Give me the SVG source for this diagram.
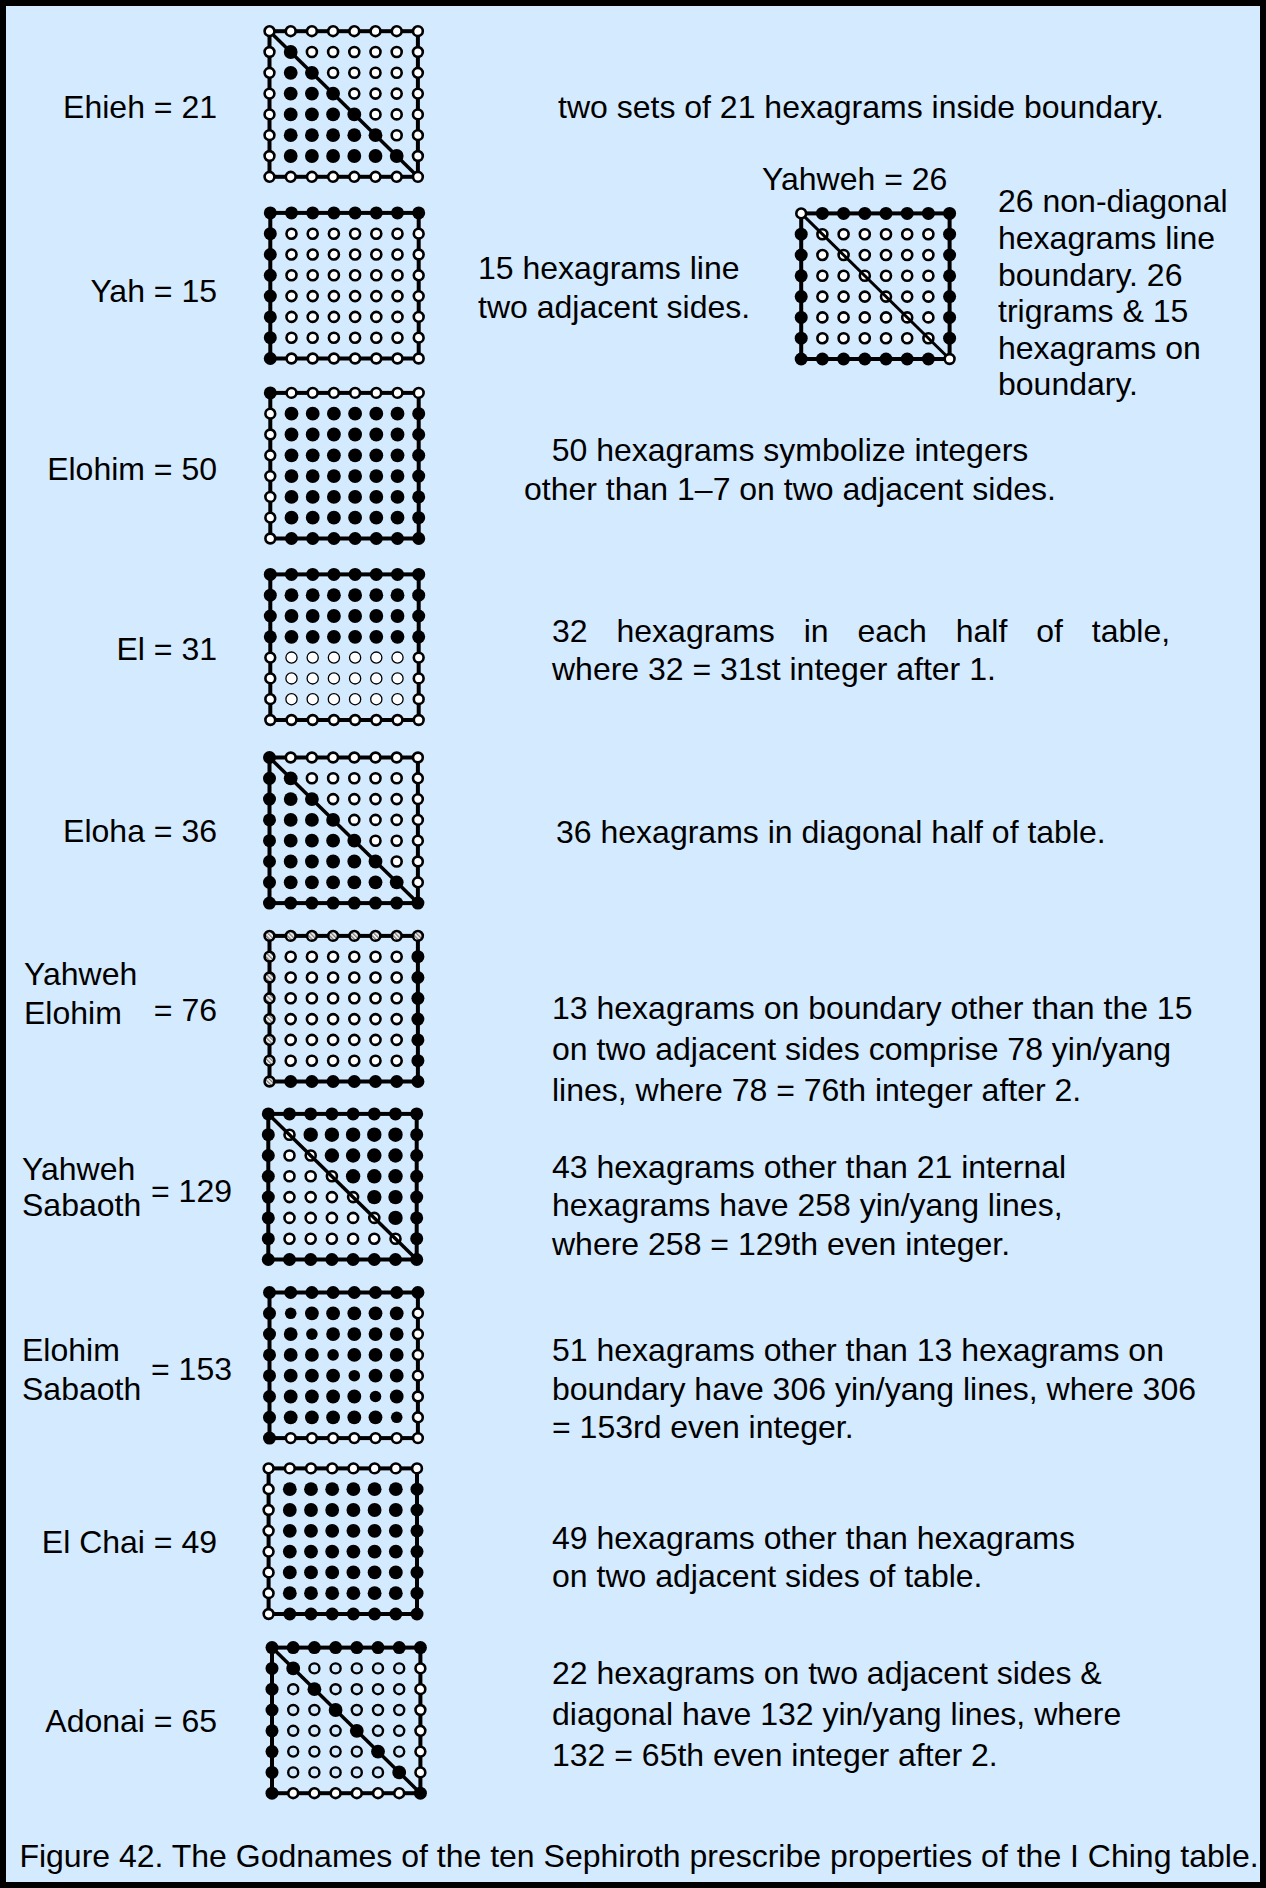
<svg xmlns="http://www.w3.org/2000/svg" xmlns:xlink="http://www.w3.org/1999/xlink" width="1266" height="1888" viewBox="0 0 1266 1888">
<style>
.bh{fill:#fff;stroke:#000;stroke-width:2.6;r:4.9px}
.bf{fill:#000;r:6.5px}
.bx{fill:url(#hatch);stroke:#000;stroke-width:2.6;r:4.9px}
.io{fill:#fff;stroke:#000;stroke-width:2.6;r:5px}
.it{fill:#fff;stroke:#000;stroke-width:1.3;r:5.6px}
.ir{fill:none;stroke:#000;stroke-width:2.4;r:5px}
.iF{fill:#000;r:6.9px}
.iB{fill:#000;r:7.2px}
.iS{fill:#000;r:5.8px}
.sq{fill:none;stroke:#000;stroke-width:4}
.dg{stroke:#000;stroke-width:3.5}
text{font-family:"Liberation Sans",Arial,Helvetica,sans-serif;font-size:32px;fill:#000}
.e{text-anchor:end}
.m{text-anchor:middle}
</style>
<defs>
<pattern id="hatch" patternUnits="userSpaceOnUse" width="3" height="3" patternTransform="rotate(-45)"><rect width="3" height="3" fill="#fff"/><rect width="1.4" height="3" fill="#777"/></pattern>
<g id="Hh6"><circle class="bh" cx="21.2"/><circle class="bh" cx="42.4"/><circle class="bh" cx="63.6"/><circle class="bh" cx="84.8"/><circle class="bh" cx="106"/><circle class="bh" cx="127.2"/></g>
<g id="Hf6"><circle class="bf" cx="21.2"/><circle class="bf" cx="42.4"/><circle class="bf" cx="63.6"/><circle class="bf" cx="84.8"/><circle class="bf" cx="106"/><circle class="bf" cx="127.2"/></g>
<g id="Hx6"><circle class="bx" cx="21.2"/><circle class="bx" cx="42.4"/><circle class="bx" cx="63.6"/><circle class="bx" cx="84.8"/><circle class="bx" cx="106"/><circle class="bx" cx="127.2"/></g>
<g id="Vh6"><circle class="bh" cy="20.8"/><circle class="bh" cy="41.6"/><circle class="bh" cy="62.4"/><circle class="bh" cy="83.2"/><circle class="bh" cy="104"/><circle class="bh" cy="124.8"/></g>
<g id="Vf6"><circle class="bf" cy="20.8"/><circle class="bf" cy="41.6"/><circle class="bf" cy="62.4"/><circle class="bf" cy="83.2"/><circle class="bf" cy="104"/><circle class="bf" cy="124.8"/></g>
<g id="Vx6"><circle class="bx" cy="20.8"/><circle class="bx" cy="41.6"/><circle class="bx" cy="62.4"/><circle class="bx" cy="83.2"/><circle class="bx" cy="104"/><circle class="bx" cy="124.8"/></g>
<g id="Io6"><circle class="io" cx="21.2"/><circle class="io" cx="42.4"/><circle class="io" cx="63.6"/><circle class="io" cx="84.8"/><circle class="io" cx="106"/><circle class="io" cx="127.2"/></g>
<g id="IF6"><circle class="iF" cx="21.2"/><circle class="iF" cx="42.4"/><circle class="iF" cx="63.6"/><circle class="iF" cx="84.8"/><circle class="iF" cx="106"/><circle class="iF" cx="127.2"/></g>
<g id="It6"><circle class="it" cx="21.2"/><circle class="it" cx="42.4"/><circle class="it" cx="63.6"/><circle class="it" cx="84.8"/><circle class="it" cx="106"/><circle class="it" cx="127.2"/></g>
<g id="IoAll"><use href="#Io6" y="20.8"/><use href="#Io6" y="41.6"/><use href="#Io6" y="62.4"/><use href="#Io6" y="83.2"/><use href="#Io6" y="104"/><use href="#Io6" y="124.8"/></g>
<g id="IFAll"><use href="#IF6" y="20.8"/><use href="#IF6" y="41.6"/><use href="#IF6" y="62.4"/><use href="#IF6" y="83.2"/><use href="#IF6" y="104"/><use href="#IF6" y="124.8"/></g>
<g id="triLF">
<circle class="iF" cx="21.2" cy="20.8"/><circle class="io" cx="42.4" cy="20.8"/><circle class="io" cx="63.6" cy="20.8"/><circle class="io" cx="84.8" cy="20.8"/><circle class="io" cx="106" cy="20.8"/><circle class="io" cx="127.2" cy="20.8"/>
<circle class="iF" cx="21.2" cy="41.6"/><circle class="iF" cx="42.4" cy="41.6"/><circle class="io" cx="63.6" cy="41.6"/><circle class="io" cx="84.8" cy="41.6"/><circle class="io" cx="106" cy="41.6"/><circle class="io" cx="127.2" cy="41.6"/>
<circle class="iF" cx="21.2" cy="62.4"/><circle class="iF" cx="42.4" cy="62.4"/><circle class="iF" cx="63.6" cy="62.4"/><circle class="io" cx="84.8" cy="62.4"/><circle class="io" cx="106" cy="62.4"/><circle class="io" cx="127.2" cy="62.4"/>
<circle class="iF" cx="21.2" cy="83.2"/><circle class="iF" cx="42.4" cy="83.2"/><circle class="iF" cx="63.6" cy="83.2"/><circle class="iF" cx="84.8" cy="83.2"/><circle class="io" cx="106" cy="83.2"/><circle class="io" cx="127.2" cy="83.2"/>
<circle class="iF" cx="21.2" cy="104"/><circle class="iF" cx="42.4" cy="104"/><circle class="iF" cx="63.6" cy="104"/><circle class="iF" cx="84.8" cy="104"/><circle class="iF" cx="106" cy="104"/><circle class="io" cx="127.2" cy="104"/>
<use href="#IF6" y="124.8"/>
</g>
<g id="triLO">
<circle class="io" cx="21.2" cy="20.8"/><circle class="iB" cx="42.4" cy="20.8"/><circle class="iB" cx="63.6" cy="20.8"/><circle class="iB" cx="84.8" cy="20.8"/><circle class="iB" cx="106" cy="20.8"/><circle class="iB" cx="127.2" cy="20.8"/>
<circle class="io" cx="21.2" cy="41.6"/><circle class="io" cx="42.4" cy="41.6"/><circle class="iB" cx="63.6" cy="41.6"/><circle class="iB" cx="84.8" cy="41.6"/><circle class="iB" cx="106" cy="41.6"/><circle class="iB" cx="127.2" cy="41.6"/>
<circle class="io" cx="21.2" cy="62.4"/><circle class="io" cx="42.4" cy="62.4"/><circle class="io" cx="63.6" cy="62.4"/><circle class="iB" cx="84.8" cy="62.4"/><circle class="iB" cx="106" cy="62.4"/><circle class="iB" cx="127.2" cy="62.4"/>
<circle class="io" cx="21.2" cy="83.2"/><circle class="io" cx="42.4" cy="83.2"/><circle class="io" cx="63.6" cy="83.2"/><circle class="io" cx="84.8" cy="83.2"/><circle class="iB" cx="106" cy="83.2"/><circle class="iB" cx="127.2" cy="83.2"/>
<circle class="io" cx="21.2" cy="104"/><circle class="io" cx="42.4" cy="104"/><circle class="io" cx="63.6" cy="104"/><circle class="io" cx="84.8" cy="104"/><circle class="io" cx="106" cy="104"/><circle class="iB" cx="127.2" cy="104"/>
<use href="#Io6" y="124.8"/>
</g>
<rect id="sqr" class="sq" x="0" y="0" width="148.4" height="145.6"/>
<line id="diag" class="dg" x1="0" y1="0" x2="148.4" y2="145.6"/>
</defs>

<rect x="3" y="3" width="1260" height="1882" fill="#D4EAFE" stroke="#000" stroke-width="6"/>

<!-- Grid 1 Ehieh -->
<g id="grid-ehieh" transform="translate(269.5,31.2)">
<use href="#sqr"/><use href="#triLF"/><use href="#diag"/>
<circle class="bh" cx="0" cy="0"/><circle class="bh" cx="148.4" cy="0"/><circle class="bh" cx="0" cy="145.6"/><circle class="bh" cx="148.4" cy="145.6"/>
<use href="#Hh6"/><use href="#Hh6" y="145.6"/><use href="#Vh6"/><use href="#Vh6" x="148.4"/>
</g>

<!-- Grid 2 Yah -->
<g id="grid-yah" transform="translate(270.3,212.9)">
<use href="#sqr"/><use href="#IoAll"/>
<circle class="bf" cx="0" cy="0"/><circle class="bf" cx="148.4" cy="0"/><circle class="bf" cx="0" cy="145.6"/><circle class="bh" cx="148.4" cy="145.6"/>
<use href="#Hf6"/><use href="#Hh6" y="145.6"/><use href="#Vf6"/><use href="#Vh6" x="148.4"/>
</g>

<!-- Grid 3 Yahweh -->
<g id="grid-yahweh" transform="translate(801.2,213.4)">
<use href="#sqr"/><use href="#IoAll"/><line class="dg" x1="0" y1="0" x2="148.4" y2="145.6" style="stroke-width:3"/>
<circle class="bh" cx="0" cy="0"/><circle class="bf" cx="148.4" cy="0"/><circle class="bf" cx="0" cy="145.6"/><circle class="bh" cx="148.4" cy="145.6"/>
<use href="#Hf6"/><use href="#Hf6" y="145.6"/><use href="#Vf6"/><use href="#Vf6" x="148.4"/>
</g>

<!-- Grid 4 Elohim -->
<g id="grid-elohim" transform="translate(270.3,392.9)">
<use href="#sqr"/><use href="#IFAll"/>
<circle class="bf" cx="0" cy="0"/><circle class="bh" cx="148.4" cy="0"/><circle class="bh" cx="0" cy="145.6"/><circle class="bf" cx="148.4" cy="145.6"/>
<use href="#Hh6"/><use href="#Hf6" y="145.6"/><use href="#Vh6"/><use href="#Vf6" x="148.4"/>
</g>

<!-- Grid 5 El -->
<g id="grid-el" transform="translate(270.3,574.4)">
<use href="#sqr"/>
<use href="#IF6" y="20.8"/><use href="#IF6" y="41.6"/><use href="#IF6" y="62.4"/>
<use href="#It6" y="83.2"/><use href="#It6" y="104"/><use href="#It6" y="124.8"/>
<circle class="bf" cx="0" cy="0"/><circle class="bf" cx="148.4" cy="0"/><circle class="bh" cx="0" cy="145.6"/><circle class="bh" cx="148.4" cy="145.6"/>
<use href="#Hf6"/><use href="#Hh6" y="145.6"/>
<circle class="bf" cx="0" cy="20.8"/><circle class="bf" cx="0" cy="41.6"/><circle class="bf" cx="0" cy="62.4"/><circle class="bh" cx="0" cy="83.2"/><circle class="bh" cx="0" cy="104"/><circle class="bh" cx="0" cy="124.8"/>
<circle class="bf" cx="148.4" cy="20.8"/><circle class="bf" cx="148.4" cy="41.6"/><circle class="bf" cx="148.4" cy="62.4"/><circle class="bh" cx="148.4" cy="83.2"/><circle class="bh" cx="148.4" cy="104"/><circle class="bh" cx="148.4" cy="124.8"/>
</g>

<!-- Grid 6 Eloha -->
<g id="grid-eloha" transform="translate(269.5,757.5)">
<use href="#sqr"/><use href="#triLF"/><use href="#diag"/>
<circle class="bf" cx="0" cy="0"/><circle class="bh" cx="148.4" cy="0"/><circle class="bf" cx="0" cy="145.6"/><circle class="bf" cx="148.4" cy="145.6"/>
<use href="#Hh6"/><use href="#Hf6" y="145.6"/><use href="#Vf6"/><use href="#Vh6" x="148.4"/>
</g>

<!-- Grid 7 Yahweh Elohim -->
<g id="grid-yahweh-elohim" transform="translate(269.5,935.9)">
<use href="#sqr"/><use href="#IoAll"/>
<circle class="bx" cx="0" cy="0"/><circle class="bx" cx="148.4" cy="0"/><circle class="bx" cx="0" cy="145.6"/><circle class="bf" cx="148.4" cy="145.6"/>
<use href="#Hx6"/><use href="#Hf6" y="145.6"/><use href="#Vx6"/><use href="#Vf6" x="148.4"/>
</g>

<!-- Grid 8 Yahweh Sabaoth -->
<g id="grid-yahweh-sabaoth" transform="translate(268.3,1113.9)">
<use href="#sqr"/><use href="#triLO"/><use href="#diag"/>
<circle class="bf" cx="0" cy="0"/><circle class="bf" cx="148.4" cy="0"/><circle class="bf" cx="0" cy="145.6"/><circle class="bf" cx="148.4" cy="145.6"/>
<use href="#Hf6"/><use href="#Hf6" y="145.6"/><use href="#Vf6"/><use href="#Vf6" x="148.4"/>
</g>

<!-- Grid 9 Elohim Sabaoth -->
<g id="grid-elohim-sabaoth" transform="translate(269.5,1292.5)">
<use href="#sqr"/>
<circle class="iS" cx="21.2" cy="20.8"/><circle class="iF" cx="42.4" cy="20.8"/><circle class="iF" cx="63.6" cy="20.8"/><circle class="iF" cx="84.8" cy="20.8"/><circle class="iF" cx="106" cy="20.8"/><circle class="iF" cx="127.2" cy="20.8"/>
<circle class="iF" cx="21.2" cy="41.6"/><circle class="iS" cx="42.4" cy="41.6"/><circle class="iF" cx="63.6" cy="41.6"/><circle class="iF" cx="84.8" cy="41.6"/><circle class="iF" cx="106" cy="41.6"/><circle class="iF" cx="127.2" cy="41.6"/>
<circle class="iF" cx="21.2" cy="62.4"/><circle class="iF" cx="42.4" cy="62.4"/><circle class="iS" cx="63.6" cy="62.4"/><circle class="iF" cx="84.8" cy="62.4"/><circle class="iF" cx="106" cy="62.4"/><circle class="iF" cx="127.2" cy="62.4"/>
<circle class="iF" cx="21.2" cy="83.2"/><circle class="iF" cx="42.4" cy="83.2"/><circle class="iF" cx="63.6" cy="83.2"/><circle class="iS" cx="84.8" cy="83.2"/><circle class="iF" cx="106" cy="83.2"/><circle class="iF" cx="127.2" cy="83.2"/>
<circle class="iF" cx="21.2" cy="104"/><circle class="iF" cx="42.4" cy="104"/><circle class="iF" cx="63.6" cy="104"/><circle class="iF" cx="84.8" cy="104"/><circle class="iS" cx="106" cy="104"/><circle class="iF" cx="127.2" cy="104"/>
<circle class="iF" cx="21.2" cy="124.8"/><circle class="iF" cx="42.4" cy="124.8"/><circle class="iF" cx="63.6" cy="124.8"/><circle class="iF" cx="84.8" cy="124.8"/><circle class="iF" cx="106" cy="124.8"/><circle class="iS" cx="127.2" cy="124.8"/>
<circle class="bf" cx="0" cy="0"/><circle class="bf" cx="148.4" cy="0"/><circle class="bf" cx="0" cy="145.6"/><circle class="bh" cx="148.4" cy="145.6"/>
<use href="#Hf6"/><use href="#Hh6" y="145.6"/><use href="#Vf6"/><use href="#Vh6" x="148.4"/>
</g>

<!-- Grid 10 El Chai -->
<g id="grid-el-chai" transform="translate(268.6,1468.4)">
<use href="#sqr"/><use href="#IFAll"/>
<circle class="bh" cx="0" cy="0"/><circle class="bh" cx="148.4" cy="0"/><circle class="bh" cx="0" cy="145.6"/><circle class="bf" cx="148.4" cy="145.6"/>
<use href="#Hh6"/><use href="#Hf6" y="145.6"/><use href="#Vh6"/><use href="#Vf6" x="148.4"/>
</g>

<!-- Grid 11 Adonai -->
<g id="grid-adonai" transform="translate(272,1647.6)">
<use href="#sqr"/>
<circle class="iF" cx="21.2" cy="20.8"/><circle class="ir" cx="42.4" cy="20.8"/><circle class="ir" cx="63.6" cy="20.8"/><circle class="ir" cx="84.8" cy="20.8"/><circle class="ir" cx="106" cy="20.8"/><circle class="ir" cx="127.2" cy="20.8"/>
<circle class="ir" cx="21.2" cy="41.6"/><circle class="iF" cx="42.4" cy="41.6"/><circle class="ir" cx="63.6" cy="41.6"/><circle class="ir" cx="84.8" cy="41.6"/><circle class="ir" cx="106" cy="41.6"/><circle class="ir" cx="127.2" cy="41.6"/>
<circle class="ir" cx="21.2" cy="62.4"/><circle class="ir" cx="42.4" cy="62.4"/><circle class="iF" cx="63.6" cy="62.4"/><circle class="ir" cx="84.8" cy="62.4"/><circle class="ir" cx="106" cy="62.4"/><circle class="ir" cx="127.2" cy="62.4"/>
<circle class="ir" cx="21.2" cy="83.2"/><circle class="ir" cx="42.4" cy="83.2"/><circle class="ir" cx="63.6" cy="83.2"/><circle class="iF" cx="84.8" cy="83.2"/><circle class="ir" cx="106" cy="83.2"/><circle class="ir" cx="127.2" cy="83.2"/>
<circle class="ir" cx="21.2" cy="104"/><circle class="ir" cx="42.4" cy="104"/><circle class="ir" cx="63.6" cy="104"/><circle class="ir" cx="84.8" cy="104"/><circle class="iF" cx="106" cy="104"/><circle class="ir" cx="127.2" cy="104"/>
<circle class="ir" cx="21.2" cy="124.8"/><circle class="ir" cx="42.4" cy="124.8"/><circle class="ir" cx="63.6" cy="124.8"/><circle class="ir" cx="84.8" cy="124.8"/><circle class="ir" cx="106" cy="124.8"/><circle class="iF" cx="127.2" cy="124.8"/>
<use href="#diag"/>
<circle class="bf" cx="0" cy="0"/><circle class="bf" cx="148.4" cy="0"/><circle class="bf" cx="0" cy="145.6"/><circle class="bf" cx="148.4" cy="145.6"/>
<use href="#Hf6"/><use href="#Hh6" y="145.6"/><use href="#Vf6"/><use href="#Vh6" x="148.4"/>
</g>

<!-- Left labels -->
<g id="labels">
<text class="e" x="217" y="117.5">Ehieh = 21</text>
<text class="e" x="217" y="301.5">Yah = 15</text>
<text class="e" x="217" y="480">Elohim = 50</text>
<text class="e" x="217" y="660">El = 31</text>
<text class="e" x="217" y="842">Eloha = 36</text>
<text x="24" y="984.5">Yahweh</text>
<text x="24" y="1023.5">Elohim</text>
<text class="e" x="217" y="1020.5">= 76</text>
<text x="22" y="1180">Yahweh</text>
<text x="22" y="1216">Sabaoth</text>
<text class="e" x="232" y="1201.5">= 129</text>
<text x="22" y="1360.5">Elohim</text>
<text x="22" y="1399.5">Sabaoth</text>
<text class="e" x="232" y="1379.5">= 153</text>
<text class="e" x="217" y="1552.5">El Chai = 49</text>
<text class="e" x="217" y="1731.5">Adonai = 65</text>
</g>

<!-- Descriptions -->
<g id="descriptions">
<text x="558" y="117.5">two sets of 21 hexagrams inside boundary.</text>
<text x="762" y="189.5">Yahweh = 26</text>
<text x="478" y="278.5">15 hexagrams line</text>
<text x="478" y="317.5">two adjacent sides.</text>
<text x="998" y="211.5">26 non-diagonal</text>
<text x="998" y="248.5">hexagrams line</text>
<text x="998" y="286">boundary. 26</text>
<text x="998" y="322">trigrams &amp; 15</text>
<text x="998" y="358.5">hexagrams on</text>
<text x="998" y="394.5">boundary.</text>
<text class="m" x="790" y="460.5">50 hexagrams symbolize integers</text>
<text class="m" x="790" y="499.5">other than 1–7 on two adjacent sides.</text>
<text x="552" y="641.5" word-spacing="20">32 hexagrams in each half of table,</text>
<text x="552" y="679.5">where 32 = 31st integer after 1.</text>
<text x="556" y="842.5">36 hexagrams in diagonal half of table.</text>
<text x="552" y="1018.5">13 hexagrams on boundary other than the 15</text>
<text x="552" y="1059.5">on two adjacent sides comprise 78 yin/yang</text>
<text x="552" y="1100.5">lines, where 78 = 76th integer after 2.</text>
<text x="552" y="1177.5">43 hexagrams other than 21 internal</text>
<text x="552" y="1216">hexagrams have 258 yin/yang lines,</text>
<text x="552" y="1254.5">where 258 = 129th even integer.</text>
<text x="552" y="1360.5">51 hexagrams other than 13 hexagrams on</text>
<text x="552" y="1399.5">boundary have 306 yin/yang lines, where 306</text>
<text x="552" y="1437.5">= 153rd even integer.</text>
<text x="552" y="1548.5">49 hexagrams other than hexagrams</text>
<text x="552" y="1587">on two adjacent sides of table.</text>
<text x="552" y="1683.5">22 hexagrams on two adjacent sides &amp;</text>
<text x="552" y="1724.5">diagonal have 132 yin/yang lines, where</text>
<text x="552" y="1765.5">132 = 65th even integer after 2.</text>
</g>

<g id="caption">
<text class="m" x="639" y="1866.5">Figure 42. The Godnames of the ten Sephiroth prescribe properties of the I Ching table.</text>
</g>
</svg>
